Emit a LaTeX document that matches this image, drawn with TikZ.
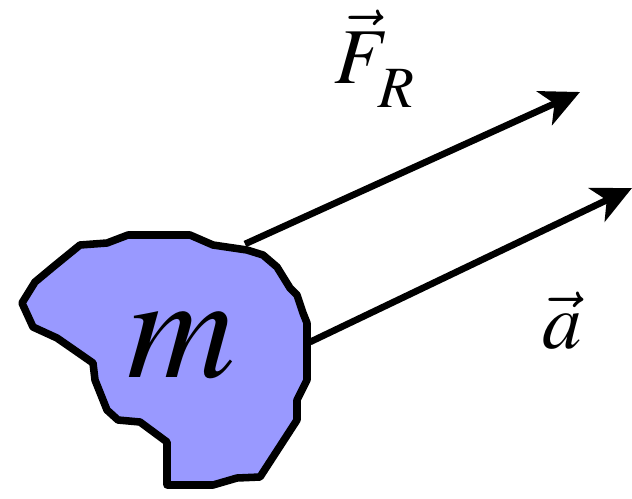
\documentclass[tikz,border=0pt]{standalone}
\usepackage{fontspec}
\usepackage{mathptmx}
\setmainfont{Liberation Serif}
\usepackage{tikz}
\usetikzlibrary{arrows.meta, positioning}
\definecolor{massblue}{HTML}{9999FF}

\begin{document}
\begin{tikzpicture}[
    x=0.02cm, y=-0.02cm,
    blob/.style={draw, fill=massblue, line width=4.3pt, line join=round},
    arrow/.style={line width=3.8pt, -{Stealth[length=0.78cm, width=0.74cm, inset=0.22cm]}},
    label/.style={inner sep=0pt, font=\fontsize{45}{54}\selectfont}
]
\useasboundingbox (0,0) rectangle (632,498);

% Body
\draw[blob] (80,245) -- (107,243) -- (128,235) -- (190,235) -- (213,245) -- (247,250)
    -- (263,255) -- (277,267) -- (290,288) -- (297,295) -- (303,313) -- (307,323)
    -- (307,380) -- (297,400) -- (297,420) -- (260,477) -- (237,478) -- (213,485)
    -- (167,485) -- (167,442) -- (140,422) -- (118,420) -- (107,410) -- (95,380)
    -- (93,363) -- (70,347) -- (57,338) -- (33,327) -- (22,303) -- (35,282)
    -- (53,267) -- cycle;
\node[inner sep=0pt, anchor=base, font=\fontsize{85}{100}\selectfont] (mass) at (181,377) {$m$};

% Arrows
\coordinate (forcestart) at (245,244);
\coordinate (forceend) at (580,92);
\coordinate (accelstart) at (310,342);
\coordinate (accelend) at (632,188);
\draw[arrow] (forcestart) -- (forceend);
\draw[arrow] (accelstart) -- (accelend);

% Labels
\node[label, anchor=base west] (force) at (334,83) {$\vec{F}_{\mskip1mu\lower7pt\hbox{$\scriptstyle R$}}$};
\node[label, anchor=base] (accel) at (562,348) {$\vec{a}$};

\end{tikzpicture}
\end{document}
